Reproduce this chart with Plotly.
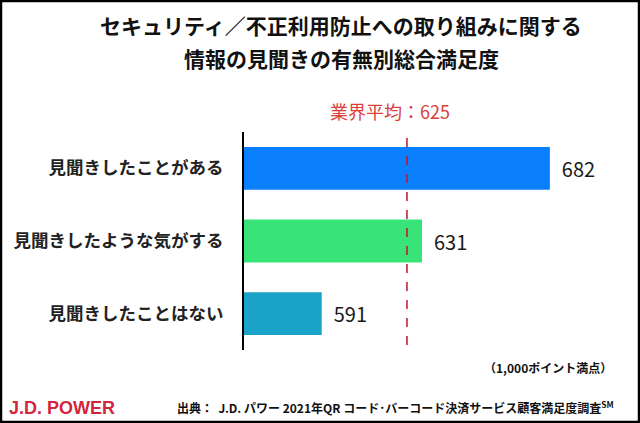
import plotly.graph_objects as go

# Datos
categorias = ["見聞きしたことがある", "見聞きしたような気がする", "見聞きしたことはない"]
puntajes = [682, 631, 591]
colores = ["#0A80FF", "#38E478", "#1BA3C9"]
promedio = 625

W, H = 640, 423
# Área del gráfico (px)
X0, X1, Y0, Y1 = 244, 600, 132, 350


def px_x(px):
    return (px - X0) / (X1 - X0)


def px_y(py):
    return (Y1 - py) / (Y1 - Y0)


FUENTE = "Noto Sans CJK JP"

fig = go.Figure(go.Bar(
    y=categorias,
    x=puntajes,
    orientation="h",
    marker=dict(color=colores, line=dict(width=0)),
    width=0.59,
    texttemplate="  %{x}",
    textposition="outside",
    textfont=dict(family=FUENTE, size=20, color="#1A1A1A"),
    cliponaxis=False,
))

# Línea del promedio del sector
fig.add_shape(type="line", xref="x", yref="paper",
              x0=promedio, x1=promedio, y0=px_y(345), y1=1,
              line=dict(color="#C0142C", width=1.5, dash="dash"))

# Marco exterior
fig.add_shape(type="rect", xref="paper", yref="paper",
              x0=px_x(1), x1=px_x(639), y0=px_y(1), y1=px_y(422),
              line=dict(color="black", width=2.5))

anotaciones = [
    dict(text="<b>セキュリティ／不正利用防止への取り組みに関する</b>",
         x=px_x(341), y=px_y(25), size=21, color="#111111", xanchor="center"),
    dict(text="<b>情報の見聞きの有無別総合満足度</b>",
         x=px_x(341), y=px_y(58), size=21, color="#111111", xanchor="center"),
    dict(text=f"業界平均：{promedio}",
         x=px_x(390), y=px_y(111), size=18, color="#D9403C", xanchor="center"),
    dict(text="<b>（1,000ポイント満点）</b>",
         x=px_x(614), y=px_y(367), size=12, color="#111111", xanchor="right"),
    dict(text="<b>出典：  J.D. パワー 2021年QR コード･バーコード決済サービス顧客満足度調査<sup>SM</sup></b>",
         x=px_x(175), y=px_y(407), size=12, color="#111111", xanchor="left"),
]
for a in anotaciones:
    fig.add_annotation(text=a["text"], x=a["x"], y=a["y"], xref="paper", yref="paper",
                       xanchor=a["xanchor"], yanchor="middle", showarrow=False,
                       font=dict(family=FUENTE, size=a["size"], color=a["color"]))

fig.add_annotation(text="<b>J.D. POWER</b>", x=px_x(7), y=px_y(408), xref="paper", yref="paper",
                   xanchor="left", yanchor="middle", showarrow=False,
                   font=dict(family="Liberation Sans", size=18, color="#D2263C"))

fig.update_layout(
    width=W, height=H,
    margin=dict(l=X0, r=W - X1, t=Y0, b=H - Y1, pad=0),
    plot_bgcolor="white", paper_bgcolor="white",
    showlegend=False,
    font=dict(family=FUENTE, color="#222222"),
    xaxis=dict(range=[560, 702], visible=False, showgrid=False, zeroline=False),
    yaxis=dict(autorange="reversed", showgrid=False, zeroline=False,
               showline=True, linecolor="black", linewidth=2,
               ticks="", ticklabelstandoff=15,
               tickvals=categorias,
               ticktext=[f"<b>{c}</b>" for c in categorias],
               tickfont=dict(family=FUENTE, size=17.5, color="#222222")),
)

# Quitar el margen del body para que el gráfico quede en (0, 0)
fig.write_html("out.html", config={"displayModeBar": False},
               post_script="document.body.style.margin='0';")
